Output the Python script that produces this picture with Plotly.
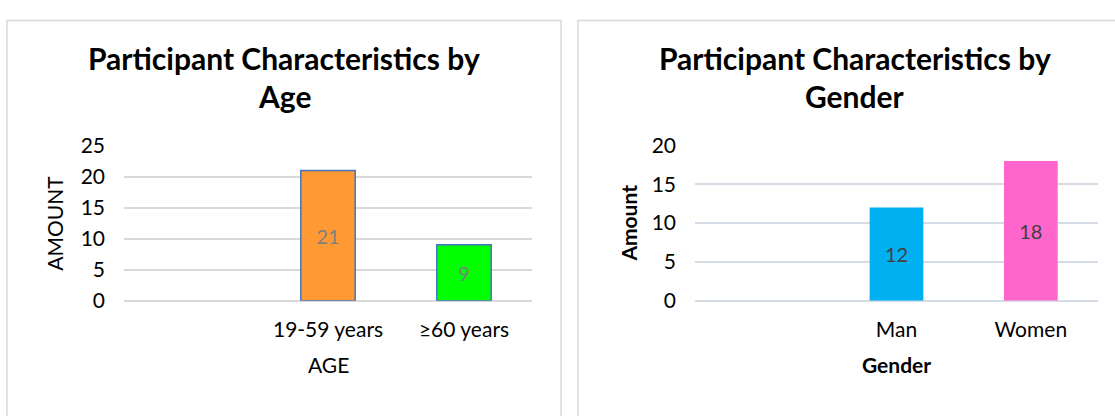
import plotly.graph_objects as go

W, H = 1115, 416

age_categories = ["19-59 years", "≥60 years"]
age_values = [21, 9]
gender_categories = ["Man", "Women"]
gender_values = [12, 18]

FONT = "Lato"

def px(x):
    return x / W

def py(y):
    return (H - y) / H

fig = go.Figure()

fig.add_trace(go.Bar(
    x=age_categories, y=age_values, width=0.4,
    marker=dict(color=["#FF9933", "#00FF00"], line=dict(color="#4472C4", width=1.5)),
    text=[str(v) for v in age_values], textposition="inside", insidetextanchor="middle",
    textfont=dict(family=FONT, size=20, color="#7F7F7F"),
    xaxis="x", yaxis="y", showlegend=False, hoverinfo="skip",
))
fig.add_trace(go.Bar(
    x=gender_categories, y=gender_values, width=0.4,
    marker=dict(color=["#00B0F0", "#FF66CC"], line=dict(width=0)),
    text=[str(v) for v in gender_values], textposition="inside", insidetextanchor="middle",
    textfont=dict(family=FONT, size=20, color="#404040"),
    xaxis="x2", yaxis="y2", showlegend=False, hoverinfo="skip",
))

def yax(grid, rng, dom, anchor):
    return dict(domain=dom, anchor=anchor, range=rng, showgrid=True, gridcolor=grid, gridwidth=1.5,
                zeroline=True, zerolinecolor=grid, zerolinewidth=1.5, showline=False, ticks="",
                dtick=5, tickfont=dict(family=FONT, size=21, color="#000000"), ticklabelstandoff=18)

common_x = dict(showgrid=False, showline=False, ticks="", range=[-1.5, 1.5],
                tickfont=dict(family=FONT, size=21, color="#000000"), ticklabelstandoff=14)

TOP, BOT = 140, 305

fig.update_layout(
    width=W, height=H, margin=dict(l=0, r=0, t=0, b=0),
    paper_bgcolor="white", plot_bgcolor="white",
    xaxis=dict(domain=[px(124), px(532)], anchor="y", **common_x),
    yaxis=yax("#D9D9D9", [0, 25], [py(BOT), py(TOP)], "x"),
    xaxis2=dict(domain=[px(695), px(1098)], anchor="y2", **common_x),
    yaxis2=yax("#D6DCE5", [0, 20], [py(BOT), py(TOP)], "x2"),
    font=dict(family=FONT),
)

# panel borders
fig.add_shape(type="rect", xref="paper", yref="paper",
              x0=px(7), x1=px(561), y0=py(430), y1=py(7),
              line=dict(color="#D9D9D9", width=1.5), fillcolor="rgba(0,0,0,0)", layer="below")
fig.add_shape(type="rect", xref="paper", yref="paper",
              x0=px(578), x1=px(1130), y0=py(430), y1=py(7),
              line=dict(color="#D9D9D9", width=1.5), fillcolor="rgba(0,0,0,0)", layer="below")

def ann(text, x, y, size, bold=False, angle=0):
    fig.add_annotation(text=f"<b>{text}</b>" if bold else text, x=px(x), y=py(y),
                       xref="paper", yref="paper", showarrow=False, textangle=angle,
                       xanchor="center", yanchor="middle",
                       font=dict(family=FONT, size=size, color="#000000"))

ann("Participant Characteristics by", 284, 47, 30, bold=True)
ann("Age", 284, 87, 30, bold=True)
ann("Participant Characteristics by", 855, 47, 30, bold=True)
ann("Gender", 855, 87, 30, bold=True)
ann("AMOUNT", 55, 222, 21, angle=-90)
ann("Amount", 629, 223, 21, bold=True, angle=-90)
ann("AGE", 328, 373, 21)
ann("Gender", 897, 373, 21, bold=True)

fig.write_html("out.html")
